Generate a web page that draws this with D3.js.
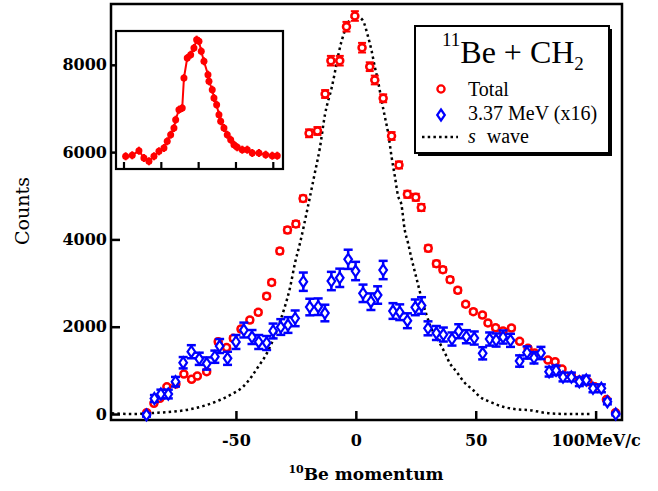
<!DOCTYPE html>
<html lang="en">

<head>
    <meta charset="UTF-8">
    <title>11Be + CH2 momentum distribution</title>
    <script src="https://d3js.org/d3.v7.min.js"></script>
    <style>
        body,
        html {
            margin: 0px;
            background: white;
        }

        .tick text {
            font-family: "DejaVu Serif", serif;
            font-weight: bold;
            font-size: 16px;
            fill: black;
        }
    </style>
</head>

<body>
    <div id="chart" style="width:658px; height:491px;"></div>

    <script>
        // ---- data ----
        // Total (red circles): momentum MeV/c, counts, error
        const totalP = [-87.2, -84.2, -81.7, -78.8, -75.0, -71.7, -68.5, -66.1, -62.2, -57.4, -53.9, -51.1, -47.9, -44.2, -40.7,
            -37.2, -35.1, -31.7, -28.5, -25.0, -22.0, -19.5, -16.0, -12.8, -10.4, -6.7, -3.9, -0.4, 2.6, 5.8, 7.9, 11.4, 14.9,
            18.0, 21.5, 25.0, 27.3, 30.2, 33.6, 36.3, 39.3, 42.5, 45.8, 49.0, 52.8, 55.1, 58.3, 61.4, 64.9, 68.3, 71.8, 74.6,
            80.1, 83.1, 86.0, 89.9, 93.3, 96.8, 99.6, 104.5, 108.3]
        const totalC = [30, 245, 360, 625, 687, 916, 795, 870, 969, 1656, 1523, 1734, 1947, 2153, 2330,
            2699, 3013, 3734, 4215, 4353, 4937, 6431, 6484, 7331, 8094, 8094, 8873, 9118, 8392, 7957, 7652, 7233, 6369,
            5705, 5033, 4965, 4731, 3796, 3443, 3306, 3077, 2834, 2515, 2344, 2268, 2085, 1975, 1902, 1970, 1666, 1505, 1398,
            1237, 1198, 1031, 871, 779, 740, 625, 332, 30]
        const totalE = [20, 30, 30, 40, 40, 40, 40, 40, 40, 50, 50, 50, 50, 50, 50,
            60, 60, 60, 70, 70, 70, 90, 90, 90, 110, 110, 110, 110, 110, 100, 100, 90, 90,
            80, 80, 80, 80, 70, 70, 60, 60, 60, 50, 50, 50, 50, 50, 50, 50, 40, 40, 40,
            40, 40, 40, 30, 30, 30, 30, 20, 20]

        // 3.37 MeV state x16 (blue diamonds)
        const exP = [-87.3, -84.0, -81.3, -78.2, -75.2, -72.0, -68.6, -65.3, -62.2, -58.8, -56.8, -53.5, -50.0, -46.7, -43.3,
            -40.5, -37.2, -34.5, -31.3, -28.3, -25.3, -21.9, -19.2, -15.7, -12.9, -10.2, -6.7, -3.2, -0.1, 3.0, 6.3, 9.1,
            11.4, 15.5, 18.3, 21.5, 24.8, 27.4, 30.1, 33.6, 36.5, 40.1, 42.9, 46.1, 49.4, 52.9, 55.8, 58.5, 61.4, 64.5,
            68.3, 71.4, 74.3, 77.2, 80.6, 83.5, 86.4, 89.9, 93.2, 96.1, 98.9, 102.4, 104.9, 108.4]
        const exC = [-20, 355, 458, 458, 740, 1175, 1427, 1265, 1157, 1313, 1558, 1276, 1650, 1924, 1764,
            1650, 1627, 1902, 1993, 2039, 2192, 3031, 2451, 2458, 2314, 3047, 3120, 3544, 3276, 2765, 2573, 2726,
            3299, 2360, 2332, 2137, 2444, 2486, 1963, 1856, 1821, 1718, 1897, 1771, 1741, 1391, 1718, 1695, 1764, 1688,
            1214, 1409, 1288, 1398, 969, 1001, 848, 848, 740, 779, 589, 589, 282, 0]
        const exE = [40, 80, 100, 100, 110, 130, 150, 140, 140, 140, 160, 150, 160, 170, 160,
            160, 160, 170, 180, 180, 180, 210, 190, 190, 190, 210, 210, 220, 210, 200, 190, 200,
            210, 180, 180, 170, 180, 190, 160, 160, 160, 150, 160, 150, 150, 140, 150, 150, 150, 150,
            130, 140, 130, 140, 110, 110, 100, 100, 100, 100, 90, 90, 60, 30]

        // s wave calculation (dotted)
        const swaveP = [-101.8, -92.9, -82.5, -76.3, -69.2, -62.2, -56.7, -51.1, -47.0, -43.5, -40.7, -37.9, -35.1, -32.4,
            -29.6, -27.5, -25.4, -23.3, -20.1, -17.1, -15.0, -12.9, -10.1, -6.0, -2.5, 0, 2.8, 5.1, 6.5, 7.9, 9.3, 10.7,
            12.1, 13.5, 14.9, 16.3, 17.6, 19.0, 20.4, 21.8, 23.2, 24.6, 26.0, 27.4, 29.5, 31.5, 34.3, 37.1, 39.2, 42.0,
            45.4, 48.9, 51.7, 55.8, 61.4, 67.0, 71.8, 80.8, 89.2, 98.2]
        const swaveC = [16, 0, 30, 53, 108, 206, 321, 474, 625, 855, 1084, 1313, 1620, 2000,
            2458, 2880, 3452, 3911, 4719, 5521, 6094, 6850, 7469, 8530, 9026, 9118, 9026, 8644, 8339, 7957, 7613, 7194,
            6811, 6431, 5895, 5437, 5000, 4800, 4215, 3911, 3567, 3260, 2955, 2651, 2268, 1963, 1695, 1404, 1162, 969,
            717, 550, 396, 282, 167, 108, 92, 16, 0, 0]

        // inset: total, other run
        const insetP = [-97.8, -89.0, -80.0, -73.3, -66.6, -59.9, -53.2, -46.5, -42.1, -37.5, -33.1, -30.8, -26.4, -22.0,
            -19.7, -15.3, -10.7, -6.3, -2.7, 0.4, 3.5, 7.1, 12.5, 13.8, 18.2, 20.5, 24.1, 27.2, 29.5, 33.9, 38.3, 42.9,
            47.3, 51.7, 58.4, 65.1, 71.8, 80.8, 89.8, 98.6, 105.3]
        const insetC = [-23, 53, 404, -153, -404, -23, 358, 610, 1122, 1625, 2136, 2770, 3533, 3662,
            5951, 7477, 7729, 8240, 8874, 8752, 7989, 7226, 6203, 5700, 5059, 4425, 3914, 3151, 2648, 2136, 1625, 1244,
            862, 664, 481, 481, 229, 229, 99, 23, 23]
        const insetTicks = [-100, -50, 0, 50, 100]

        const yTicks = [0, 2000, 4000, 6000, 8000]
        const xTicks = [-50, 0, 50, 100]
        const legendLabels = ["Total", "3.37 MeV (x16)", "wave"]

        drawChart("chart")

        function drawChart(divId) {
            const width = 658, height = 491

            const svg = d3.select("#" + divId)
                .append("svg")
                .attr("width", width)
                .attr("height", height)

            const x = d3.scaleLinear().domain([-102.1, 111]).range([111, 622])
            const y = d3.scaleLinear().domain([-137, 9393]).range([420, 4])

            // frame
            svg.append("rect")
                .attr("x", x.range()[0])
                .attr("y", y.range()[1])
                .attr("width", x.range()[1] - x.range()[0])
                .attr("height", y.range()[0] - y.range()[1])
                .attr("fill", "none")
                .attr("stroke", "black")
                .attr("stroke-width", 2.5)

            // axes (ticks inside)
            const yAxis = svg.append("g")
                .attr("transform", `translate(${x.range()[0]},0)`)
                .call(d3.axisLeft(y).tickValues(yTicks).tickSize(-9).tickSizeOuter(0).tickPadding(4).tickFormat(d => String(d)))
            yAxis.select(".domain").remove()
            yAxis.selectAll(".tick line").attr("stroke", "black").attr("stroke-width", 2.5)

            const xAxis = svg.append("g")
                .attr("transform", `translate(0,${y.range()[0]})`)
                .call(d3.axisBottom(x).tickValues(xTicks).tickSize(-9).tickSizeOuter(0).tickPadding(15)
                    .tickFormat(d => d === 100 ? "100MeV/c" : String(d)))
            xAxis.select(".domain").remove()
            xAxis.selectAll(".tick line").attr("stroke", "black").attr("stroke-width", 2.5)

            // axis titles
            svg.append("text")
                .attr("transform", "translate(29,211) rotate(-90)")
                .attr("text-anchor", "middle")
                .style("font-family", "'DejaVu Serif', serif")
                .style("font-size", "19px")
                .text("Counts")

            const xt = svg.append("text")
                .attr("x", 366)
                .attr("y", 480)
                .attr("text-anchor", "middle")
                .style("font-family", "'DejaVu Serif', serif")
                .style("font-weight", "bold")
                .style("font-size", "17px")
            xt.append("tspan").style("font-size", "11px").attr("dy", -7).text("10")
            xt.append("tspan").attr("dy", 7).text("Be momentum")

            const plot = svg.append("g")

            // s wave
            const swave = swaveP.map((p, i) => ({ p, c: swaveC[i] }))
            const lineFunc = d3.line()
                .x(d => x(d.p))
                .y(d => y(d.c))
                .curve(d3.curveMonotoneX)
            plot.append("path")
                .datum(swave)
                .attr("d", lineFunc)
                .attr("fill", "none")
                .attr("stroke", "black")
                .attr("stroke-width", 2.5)
                .attr("stroke-dasharray", "2.5,3.2")

            // error bars helper
            function errorBars(g, data, color, cap, sw) {
                const eb = g.append("g").attr("stroke", color).attr("stroke-width", sw)
                eb.selectAll(".v").data(data).join("line")
                    .attr("x1", d => x(d.p)).attr("x2", d => x(d.p))
                    .attr("y1", d => y(d.c - d.e)).attr("y2", d => y(d.c + d.e))
                eb.selectAll(".t").data(data).join("line")
                    .attr("x1", d => x(d.p) - cap).attr("x2", d => x(d.p) + cap)
                    .attr("y1", d => y(d.c + d.e)).attr("y2", d => y(d.c + d.e))
                eb.selectAll(".b").data(data).join("line")
                    .attr("x1", d => x(d.p) - cap).attr("x2", d => x(d.p) + cap)
                    .attr("y1", d => y(d.c - d.e)).attr("y2", d => y(d.c - d.e))
            }

            const total = totalP.map((p, i) => ({ p, c: totalC[i], e: totalE[i] }))
            const excited = exP.map((p, i) => ({ p, c: exC[i], e: exE[i] }))

            // total
            errorBars(plot, total, "#ff0000", 4, 2)
            plot.append("g").selectAll("circle")
                .data(total)
                .join("circle")
                .attr("cx", d => x(d.p))
                .attr("cy", d => y(d.c))
                .attr("r", 3.5)
                .attr("fill", "white")
                .attr("stroke", "#ff0000")
                .attr("stroke-width", 2.5)

            // 3.37 MeV
            const diamond = "M0,-5.5L3.8,0L0,5.5L-3.8,0Z"
            errorBars(plot, excited, "#0000ff", 4.5, 2.5)
            plot.append("g").selectAll("path")
                .data(excited)
                .join("path")
                .attr("d", diamond)
                .attr("transform", d => `translate(${x(d.p)},${y(d.c)})`)
                .attr("fill", "white")
                .attr("stroke", "#0000ff")
                .attr("stroke-width", 2.2)

            // inset
            const ix = d3.scaleLinear().domain([-100, 100]).range([124, 273.3])
            const iy = d3.scaleLinear().domain([0, 9000]).range([156, 38])
            const inset = svg.append("g")
            inset.append("rect")
                .attr("x", 116).attr("y", 31).attr("width", 167).attr("height", 138)
                .attr("fill", "white").attr("stroke", "black").attr("stroke-width", 2.2)
            inset.selectAll(".itick").data(insetTicks).join("line")
                .attr("x1", d => ix(d)).attr("x2", d => ix(d))
                .attr("y1", 169).attr("y2", 162)
                .attr("stroke", "black").attr("stroke-width", 2.2)
            const insetData = insetP.map((p, i) => ({ p, c: insetC[i] }))
            inset.append("path")
                .datum(insetData)
                .attr("d", d3.line().x(d => ix(d.p)).y(d => iy(d.c)))
                .attr("fill", "none")
                .attr("stroke", "#ff0000")
                .attr("stroke-width", 2)
            inset.append("g").selectAll("line").data(insetData).join("line")
                .attr("x1", d => ix(d.p)).attr("x2", d => ix(d.p))
                .attr("y1", d => iy(d.c) - 4).attr("y2", d => iy(d.c) + 4)
                .attr("stroke", "#ff0000").attr("stroke-width", 2)
            inset.append("g").selectAll("circle").data(insetData).join("circle")
                .attr("cx", d => ix(d.p))
                .attr("cy", d => iy(d.c))
                .attr("r", 3.5)
                .attr("fill", "#ff0000")

            // legend box with shadow
            const leg = svg.append("g")
            leg.append("rect")
                .attr("x", 418).attr("y", 29).attr("width", 194).attr("height", 127)
                .attr("fill", "black")
            leg.append("rect")
                .attr("x", 415).attr("y", 26).attr("width", 194).attr("height", 127)
                .attr("fill", "white").attr("stroke", "black").attr("stroke-width", 2)

            const title = leg.append("text")
                .attr("x", 442).attr("y", 63)
                .style("font-family", "'Liberation Serif', serif")
                .style("font-size", "32px")
            title.append("tspan").style("font-size", "19px").attr("dy", -17).text("11")
            title.append("tspan").attr("dy", 17).text("Be + CH")
            title.append("tspan").style("font-size", "19px").attr("dy", 7).text("2")

            leg.append("circle")
                .attr("cx", 441).attr("cy", 89).attr("r", 3.6)
                .attr("fill", "white").attr("stroke", "#ff0000").attr("stroke-width", 2.3)
            leg.append("path")
                .attr("d", diamond)
                .attr("transform", "translate(441,115)")
                .attr("fill", "white").attr("stroke", "#0000ff").attr("stroke-width", 2.2)
            leg.append("line")
                .attr("x1", 422).attr("x2", 458).attr("y1", 137).attr("y2", 137)
                .attr("stroke", "black").attr("stroke-width", 2.5).attr("stroke-dasharray", "2.5,3.2")

            const ltext = leg.append("g")
                .style("font-family", "'Liberation Serif', serif")
                .style("font-size", "20px")
            ltext.append("text").attr("x", 468).attr("y", 96).text(legendLabels[0])
            ltext.append("text").attr("x", 468).attr("y", 120).text(legendLabels[1])
            const sw = ltext.append("text").attr("x", 468).attr("y", 143)
            sw.append("tspan").style("font-style", "italic").text("s")
            sw.append("tspan").attr("dx", 11).text(legendLabels[2])
        }
    </script>
</body>

</html>
